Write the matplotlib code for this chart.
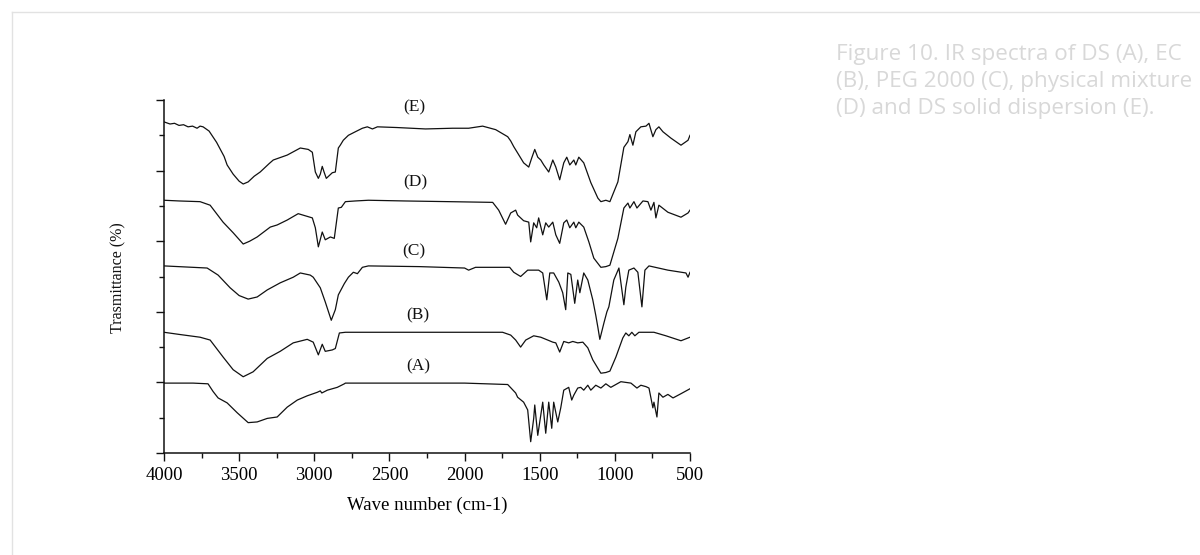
import matplotlib

matplotlib.use("Agg")
import matplotlib.pyplot as plt
from matplotlib.lines import Line2D
from matplotlib.ticker import MultipleLocator, NullFormatter

# IR spectra, wavenumber (cm-1) vs transmittance (offset, arbitrary units)
wn_a = [4000, 3807, 3707, 3673, 3640, 3580, 3513, 3440, 3380, 3313, 3247, 3180, 3113, 3047,
        2980, 2960, 2950, 2913, 2847, 2800, 2793, 2400, 2000, 1713, 1660, 1647, 1607, 1580,
        1560, 1540, 1533, 1513, 1480, 1460, 1440, 1420, 1407, 1380, 1360, 1340, 1307, 1287,
        1273, 1247, 1227, 1207, 1180, 1160, 1127, 1093, 1060, 1027, 960, 893, 853, 827, 793,
        773, 747, 740, 720, 707, 680, 647, 613, 560, 500]
t_a = [0.99, 0.99, 0.98, 0.87, 0.78, 0.71, 0.57, 0.43, 0.44, 0.49, 0.51, 0.65, 0.75, 0.81,
       0.86, 0.88, 0.85, 0.89, 0.93, 0.98, 0.99, 0.99, 0.99, 0.97, 0.85, 0.79, 0.72, 0.61,
       0.16, 0.49, 0.68, 0.25, 0.72, 0.28, 0.72, 0.35, 0.72, 0.44, 0.64, 0.89, 0.93, 0.75,
       0.82, 0.92, 0.93, 0.89, 0.96, 0.89, 0.96, 0.92, 0.98, 0.93, 1.01, 0.99, 0.92, 0.96, 0.94,
       0.92, 0.64, 0.72, 0.51, 0.85, 0.79, 0.83, 0.78, 0.84, 0.91]

wn_b = [4000, 3900, 3760, 3693, 3607, 3540, 3473, 3407, 3313, 3227, 3140, 3047, 3007, 2973,
        2947, 2927, 2880, 2860, 2833, 2793, 2400, 2000, 1747, 1693, 1660, 1627, 1593, 1540,
        1493, 1447, 1413, 1393, 1367, 1340, 1307, 1280, 1247, 1213, 1180, 1147, 1113, 1093,
        1060, 1033, 993, 947, 927, 907, 887, 867, 840, 740, 660, 560, 500]
t_b = [1.71, 1.68, 1.64, 1.60, 1.36, 1.18, 1.08, 1.15, 1.34, 1.44, 1.56, 1.61, 1.57, 1.39,
       1.54, 1.44, 1.46, 1.48, 1.70, 1.71, 1.71, 1.71, 1.71, 1.67, 1.60, 1.50, 1.60, 1.66,
       1.64, 1.60, 1.57, 1.56, 1.43, 1.58, 1.56, 1.58, 1.56, 1.57, 1.49, 1.32, 1.20, 1.13,
       1.14, 1.16, 1.36, 1.63, 1.70, 1.66, 1.71, 1.66, 1.71, 1.71, 1.66, 1.59, 1.64]

wn_c = [4000, 3713, 3640, 3560, 3500, 3440, 3380, 3313, 3227, 3140, 3093, 3027, 3007, 2960,
        2927, 2887, 2860, 2840, 2800, 2773, 2740, 2713, 2680, 2640, 2300, 2000, 1973, 1927,
        1700, 1673, 1627, 1580, 1507, 1480, 1453, 1433, 1407, 1373, 1347, 1327, 1313, 1293,
        1267, 1247, 1233, 1207, 1180, 1147, 1127, 1113, 1100, 1073, 1053, 1040, 1007, 973,
        940, 927, 907, 873, 847, 820, 800, 773, 647, 527, 513, 500]
t_c = [2.65, 2.62, 2.52, 2.34, 2.23, 2.18, 2.21, 2.31, 2.41, 2.49, 2.55, 2.52, 2.49, 2.34,
       2.14, 1.88, 2.03, 2.24, 2.40, 2.49, 2.56, 2.54, 2.63, 2.65, 2.64, 2.62, 2.59, 2.63,
       2.63, 2.56, 2.50, 2.59, 2.59, 2.55, 2.17, 2.55, 2.55, 2.42, 2.27, 2.03, 2.55, 2.53,
       2.12, 2.45, 2.27, 2.55, 2.45, 2.17, 1.95, 1.78, 1.61, 1.84, 2.00, 2.07, 2.45, 2.62,
       2.10, 2.35, 2.59, 2.62, 2.56, 2.07, 2.59, 2.65, 2.59, 2.55, 2.49, 2.56]

wn_d = [4000, 3900, 3760, 3693, 3607, 3540, 3473, 3430, 3380, 3293, 3247, 3180, 3107, 3013,
        2993, 2973, 2947, 2927, 2893, 2867, 2840, 2820, 2793, 2727, 2640, 2400, 2100, 1813,
        1773, 1727, 1693, 1660, 1647, 1607, 1573, 1560, 1540, 1520, 1507, 1480, 1460, 1440,
        1413, 1393, 1367, 1340, 1320, 1300, 1273, 1260, 1240, 1207, 1173, 1140, 1093, 1060,
        1033, 980, 940, 913, 900, 873, 853, 813, 780, 760, 740, 727, 707, 647, 560, 513, 500]
t_d = [3.58, 3.57, 3.56, 3.51, 3.27, 3.12, 2.96, 3.00, 3.06, 3.20, 3.23, 3.30, 3.39, 3.33,
       3.19, 2.92, 3.13, 3.02, 3.06, 3.04, 3.47, 3.48, 3.56, 3.57, 3.58, 3.57, 3.56, 3.55,
       3.44, 3.24, 3.40, 3.44, 3.37, 3.29, 3.27, 2.99, 3.26, 3.19, 3.33, 3.09, 3.26, 3.20,
       3.27, 3.09, 2.97, 3.26, 3.30, 3.19, 3.27, 3.19, 3.27, 3.20, 2.99, 2.76, 2.63, 2.64,
       2.66, 3.04, 3.47, 3.54, 3.47, 3.56, 3.47, 3.57, 3.56, 3.44, 3.55, 3.33, 3.51, 3.41,
       3.34, 3.40, 3.44]

wn_e = [4000, 3960, 3930, 3900, 3870, 3840, 3810, 3780, 3760, 3740, 3700, 3650, 3600, 3580,
        3540, 3500, 3473, 3440, 3400, 3360, 3300, 3273, 3180, 3093, 3040, 3013, 2993, 2973,
        2960, 2947, 2935, 2920, 2900, 2880, 2860, 2840, 2827, 2807, 2773, 2727, 2680, 2647,
        2613, 2580, 2450, 2260, 2080, 1973, 1880, 1793, 1713, 1693, 1673, 1647, 1607, 1573,
        1553, 1533, 1513, 1493, 1473, 1440, 1413, 1393, 1367, 1340, 1320, 1300, 1273, 1260,
        1240, 1207, 1160, 1113, 1093, 1060, 1033, 980, 940, 913, 900, 880, 860, 827, 793, 773,
        747, 727, 707, 680, 627, 560, 513, 500]
t_e = [4.69, 4.66, 4.67, 4.64, 4.65, 4.62, 4.63, 4.60, 4.63, 4.62, 4.56, 4.40, 4.20, 4.08,
       3.95, 3.85, 3.81, 3.84, 3.92, 3.98, 4.10, 4.15, 4.22, 4.32, 4.30, 4.26, 3.98, 3.89,
       3.95, 4.06, 3.98, 3.89, 3.93, 3.97, 3.98, 4.32, 4.36, 4.43, 4.50, 4.55, 4.60, 4.62,
       4.59, 4.62, 4.61, 4.59, 4.60, 4.60, 4.63, 4.58, 4.48, 4.42, 4.34, 4.25, 4.11, 4.05,
       4.18, 4.30, 4.19, 4.15, 4.08, 3.98, 4.15, 4.05, 3.87, 4.11, 4.19, 4.08, 4.15, 4.08,
       4.19, 4.11, 3.83, 3.61, 3.56, 3.58, 3.56, 3.84, 4.33, 4.41, 4.51, 4.36, 4.55, 4.62,
       4.63, 4.67, 4.48, 4.58, 4.62, 4.55, 4.46, 4.36, 4.43, 4.50]

spectra = [(wn_a, t_a), (wn_b, t_b), (wn_c, t_c), (wn_d, t_d), (wn_e, t_e)]
curve_labels = ["(A)", "(B)", "(C)", "(D)", "(E)"]
label_x = [2307, 2313, 2340, 2330, 2333]
label_y = [1.22, 1.95, 2.86, 3.84, 4.90]

caption_lines = ["Figure 10. IR spectra of DS (A), EC",
                 "(B), PEG 2000 (C), physical mixture",
                 "(D) and DS solid dispersion (E)."]

SERIF = ["Liberation Serif", "DejaVu Serif"]
INK = "#111111"

fig = plt.figure(figsize=(12, 5.55), dpi=100)
ax = fig.add_axes([164 / 1200, 1 - 453 / 555, 526 / 1200, 353 / 555])

for wn, t in spectra:
    ax.plot(wn, t, color=INK, lw=0.9)

for lab, x, y in zip(curve_labels, label_x, label_y):
    ax.text(x, y, lab, ha="center", va="center", fontsize=12.5, family=SERIF, color=INK)

ax.set_xlim(4000, 500)
ax.set_ylim(0, 5)
ax.xaxis.set_major_locator(MultipleLocator(500))
ax.xaxis.set_minor_locator(MultipleLocator(250))
ax.yaxis.set_major_locator(MultipleLocator(1))
ax.yaxis.set_minor_locator(MultipleLocator(0.5))
ax.yaxis.set_major_formatter(NullFormatter())
ax.spines["top"].set_visible(False)
ax.spines["right"].set_visible(False)
for s in ("left", "bottom"):
    ax.spines[s].set_linewidth(1.1)
    ax.spines[s].set_color(INK)
ax.tick_params(which="major", length=6, width=1.0, color=INK, labelsize=13.5, pad=4)
ax.tick_params(which="minor", length=3.5, width=1.0, color=INK)
for lab in ax.get_xticklabels():
    lab.set_family(SERIF)

ax.set_xlabel("Wave number (cm-1)", fontsize=13.5, family=SERIF, labelpad=9)
fig.text(118 / 1200, 1 - 278 / 555, "Trasmittance (%)", rotation=90, ha="center",
         va="center", fontsize=11.5, family=SERIF, color=INK)

# caption to the right of the plot, one baseline per line
for i, line in enumerate(caption_lines):
    fig.text(836 / 1200, 1 - (60 + 27 * i) / 555, line, ha="left", va="baseline",
             fontsize=16.2, family=["Open Sans", "DejaVu Sans"], color="#d8d8d8")

# thin page frame along the top and left edge
fig.add_artist(Line2D([12 / 1200, 1], [1 - 12 / 555] * 2, color="#e2e2e2", lw=1))
fig.add_artist(Line2D([12 / 1200] * 2, [0, 1 - 12 / 555], color="#e2e2e2", lw=1))

fig.savefig("out.png", dpi=100)
